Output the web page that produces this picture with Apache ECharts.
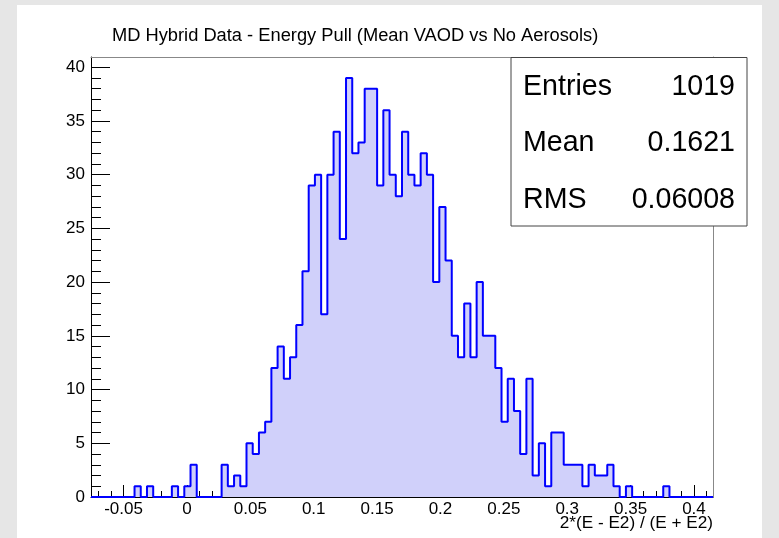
<!DOCTYPE html>
<html>
<head>
<meta charset="utf-8">
<script src="https://cdn.jsdelivr.net/npm/echarts@6/dist/echarts.min.js"></script>
<style>
  html, body { margin: 0; padding: 0; background: #e6e6e6; }
  #bg { position: absolute; left: 17px; top: 5px; width: 745px; height: 533px; background: #ffffff; }
  #chart { position: absolute; left: 0; top: 0; width: 779px; height: 538px; }
</style>
</head>
<body>
<div id="bg"></div>
<div id="chart"></div>
<script>
// Histogram definition (100 bins)
const XMIN = -0.0757;
const XMAX = 0.415;
const binCounts = [
  0, 0, 0, 0, 0, 0, 0, 1, 0, 1,
  0, 0, 0, 1, 0, 1, 3, 0, 0, 0,
  0, 3, 1, 2, 1, 5, 4, 6, 7, 12,
  14, 11, 13, 16, 21, 29, 30, 17, 30, 34,
  24, 39, 32, 33, 38, 38, 29, 36, 30, 28,
  34, 30, 29, 32, 30, 20, 27, 22, 15, 13,
  18, 13, 20, 15, 15, 12, 7, 11, 8, 4,
  11, 2, 5, 1, 6, 6, 3, 3, 3, 1,
  3, 2, 2, 3, 1, 0, 1, 0, 0, 0,
  0, 0, 1, 0, 0, 0, 0, 0, 0, 0
];
const xMajorTicks = [-0.05, 0, 0.05, 0.1, 0.15, 0.2, 0.25, 0.3, 0.35, 0.4];
const xMinorTicks = [-0.07, -0.06, -0.05, -0.04, -0.03, -0.02, -0.01, 0, 0.01, 0.02, 0.03, 0.04,
  0.05, 0.06, 0.07, 0.08, 0.09, 0.1, 0.11, 0.12, 0.13, 0.14, 0.15, 0.16, 0.17, 0.18, 0.19, 0.2,
  0.21, 0.22, 0.23, 0.24, 0.25, 0.26, 0.27, 0.28, 0.29, 0.3, 0.31, 0.32, 0.33, 0.34, 0.35, 0.36,
  0.37, 0.38, 0.39, 0.4, 0.41];
const yMajorTicks = [0, 5, 10, 15, 20, 25, 30, 35, 40];
const yMinorTicks = [0, 1, 2, 3, 4, 5, 6, 7, 8, 9, 10, 11, 12, 13, 14, 15, 16, 17, 18, 19, 20,
  21, 22, 23, 24, 25, 26, 27, 28, 29, 30, 31, 32, 33, 34, 35, 36, 37, 38, 39, 40];
const YMAX = 40.95;
const titleText = 'MD Hybrid Data - Energy Pull (Mean VAOD vs No Aerosols)';
const xTitle = '2*(E - E2) / (E + E2)';
const statsLabels = ['Entries', 'Mean', 'RMS'];
const statsValues = ['1019', '0.1621', '0.06008'];

const binWidth = (XMAX - XMIN) / binCounts.length;
const stepData = binCounts.map((v, k) => [XMIN + k * binWidth, v]);
stepData.push([XMAX, binCounts[binCounts.length - 1]]);

const FONT = 'Liberation Sans, Arial, Helvetica, sans-serif';
const chart = echarts.init(document.getElementById('chart'), null, { renderer: 'canvas' });

const statsGraphics = [{
  type: 'rect', z: 100,
  shape: { x: 511, y: 57.5, width: 236, height: 168.5 },
  style: { fill: '#ffffff', stroke: '#444444', lineWidth: 1 }
}];
statsLabels.forEach((lab, i) => {
  statsGraphics.push({
    type: 'text', z: 101, x: 523, y: 87 + i * 56.5,
    style: { text: lab, font: '28.6px ' + FONT, fill: '#000', textAlign: 'left', textVerticalAlign: 'middle' }
  });
  statsGraphics.push({
    type: 'text', z: 101, x: 735, y: 87 + i * 56.5,
    style: { text: statsValues[i], font: '28.6px ' + FONT, fill: '#000', textAlign: 'right', textVerticalAlign: 'middle' }
  });
});

const option = {
  animation: false,
  backgroundColor: 'transparent',
  grid: { left: 91, right: 66, top: 57, bottom: 41, containLabel: false },
  xAxis: [
    {
      type: 'value', min: XMIN, max: XMAX, position: 'bottom',
      axisLine: { show: true, onZero: false, lineStyle: { color: '#000', width: 1 } },
      axisTick: { show: true, inside: true, length: 12, customValues: xMajorTicks, lineStyle: { color: '#000' } },
      axisLabel: { show: true, customValues: xMajorTicks, color: '#000', fontSize: 17, fontFamily: FONT, margin: 4 },
      splitLine: { show: false }
    },
    {
      type: 'value', min: XMIN, max: XMAX, position: 'bottom', gridIndex: 0,
      axisLine: { show: false, onZero: false },
      axisTick: { show: true, inside: true, length: 6, customValues: xMinorTicks, lineStyle: { color: '#000' } },
      axisLabel: { show: false },
      splitLine: { show: false }
    },
    {
      type: 'value', min: XMIN, max: XMAX, position: 'top',
      axisLine: { show: true, onZero: false, lineStyle: { color: '#888', width: 1 } },
      axisTick: { show: false }, axisLabel: { show: false }, splitLine: { show: false }
    }
  ],
  yAxis: [
    {
      type: 'value', min: 0, max: YMAX, position: 'left',
      axisLine: { show: true, onZero: false, lineStyle: { color: '#000', width: 1 } },
      axisTick: { show: true, inside: true, length: 19, customValues: yMajorTicks, lineStyle: { color: '#000' } },
      axisLabel: { show: true, customValues: yMajorTicks, color: '#000', fontSize: 17, fontFamily: FONT, margin: 6 },
      splitLine: { show: false }
    },
    {
      type: 'value', min: 0, max: YMAX, position: 'left',
      axisLine: { show: false, onZero: false },
      axisTick: { show: true, inside: true, length: 10, customValues: yMinorTicks, lineStyle: { color: '#000' } },
      axisLabel: { show: false },
      splitLine: { show: false }
    },
    {
      type: 'value', min: 0, max: YMAX, position: 'right',
      axisLine: { show: true, onZero: false, lineStyle: { color: '#888', width: 1 } },
      axisTick: { show: false }, axisLabel: { show: false }, splitLine: { show: false }
    }
  ],
  series: [{
    type: 'line',
    xAxisIndex: 0, yAxisIndex: 0,
    step: 'end',
    data: stepData,
    symbol: 'none',
    z: 5,
    lineStyle: { color: '#0000ff', width: 2 },
    areaStyle: { color: 'rgb(208,208,250)', origin: 'start', opacity: 1 }
  }],
  graphic: [
    {
      type: 'text', z: 100, x: 112, y: 36,
      style: { text: titleText, font: '18.3px ' + FONT, fill: '#000', textAlign: 'left', textVerticalAlign: 'middle' }
    },
    {
      type: 'text', z: 100, x: 713, y: 523,
      style: { text: xTitle, font: '17.2px ' + FONT, fill: '#000', textAlign: 'right', textVerticalAlign: 'middle' }
    }
  ].concat(statsGraphics)
};
chart.setOption(option);
</script>
</body>
</html>
